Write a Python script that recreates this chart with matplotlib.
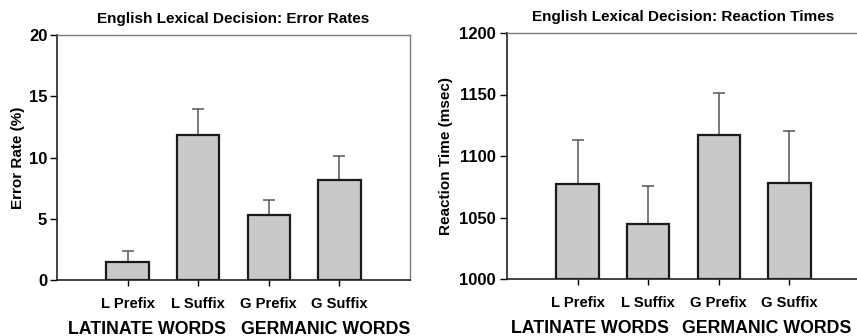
import matplotlib.pyplot as plt

plt.rcParams['font.family'] = 'Liberation Sans'
plt.rcParams['font.weight'] = 'bold'

conditions = ['L Prefix', 'L Suffix', 'G Prefix', 'G Suffix']
groups = ['LATINATE WORDS', 'GERMANIC WORDS']

error_rates = [1.5, 11.8, 5.3, 8.2]
error_rate_se = [0.85, 2.2, 1.2, 1.9]

reaction_times = [1077, 1045, 1117, 1078]
reaction_time_se = [36, 31, 34, 42]

fig = plt.figure(figsize=(8.57, 3.36), dpi=100)
ax1 = fig.add_axes([57 / 857, 1 - 280 / 336, 353 / 857, 245 / 336])
ax2 = fig.add_axes([507 / 857, 1 - 279 / 336, 353 / 857, 246 / 336])


def draw_panel(ax, values, errs, ylim, yticks, ylabel, title, group_x, label_x, ypad):
    x = range(len(values))
    bottom = ylim[0]
    heights = [v - bottom for v in values]
    ax.bar(x, heights, bottom=bottom, width=0.6, color='#c8c9cb',
           edgecolor='#1a1a1a', linewidth=1.6, zorder=2)
    ax.errorbar(x, values, yerr=[[0] * len(errs), errs], fmt='none',
                ecolor='#555555', elinewidth=1.1, capsize=4, capthick=1.1, zorder=1)
    ax.set_xlim(-1, 4)
    ax.set_ylim(*ylim)
    ax.set_yticks(yticks)
    ax.set_yticklabels([str(t) for t in yticks], fontsize=12, fontweight='bold')
    ax.set_xticks(list(x))
    ax.set_xticklabels(conditions, fontsize=10.6, fontweight='bold')
    ax.tick_params(axis='y', direction='out', length=5, width=1, pad=ypad)
    ax.tick_params(axis='x', direction='out', length=4, width=1, pad=8)
    ax.set_ylabel(ylabel, fontsize=11, fontweight='bold')
    ax.yaxis.set_label_coords(label_x, 0.5)
    ax.set_title(title, fontsize=11, fontweight='bold', pad=9)
    for s in ['top', 'right']:
        ax.spines[s].set_color('#777777')
        ax.spines[s].set_linewidth(1)
    for s in ['left', 'bottom']:
        ax.spines[s].set_color('#222222')
        ax.spines[s].set_linewidth(1.2)
    for label, gx in zip(groups, group_x):
        ax.text(gx, -0.2, label, transform=ax.get_xaxis_transform(),
                ha='center', va='center', fontsize=12.8, fontweight='bold')


draw_panel(ax1, error_rates, error_rate_se, (0, 20), [0, 5, 10, 15, 20],
           'Error Rate (%)', 'English Lexical Decision: Error Rates',
           [0.27, 2.8], -0.09, 2)
draw_panel(ax2, reaction_times, reaction_time_se, (1000, 1200),
           [1000, 1050, 1100, 1150, 1200], 'Reaction Time (msec)',
           'English Lexical Decision: Reaction Times', [0.17, 2.68], -0.154, 3)

fig.savefig('out.png', dpi=100)
